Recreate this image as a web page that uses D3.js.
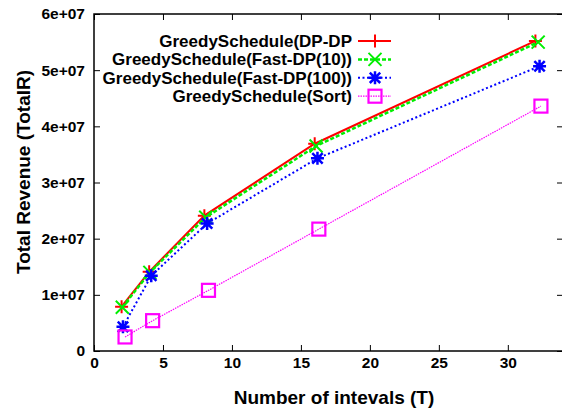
<!DOCTYPE html>
<html>
<head>
<meta charset="utf-8">
<script src="https://cdn.jsdelivr.net/npm/d3@7"></script>
<style>
  body { margin: 0; background: #fff; }
  text { font-family: "Liberation Sans", Arial, sans-serif; font-weight: bold; }
</style>
</head>
<body>
<div id="chart"></div>
<script>
const seriesNames = ['GreedySchedule(DP-DP', 'GreedySchedule(Fast-DP(10))', 'GreedySchedule(Fast-DP(100))', 'GreedySchedule(Sort)']
const xDpDp = [2, 4, 8, 16, 32]
const yDpDp = [7.9e6, 1.41e7, 2.41e7, 3.69e7, 5.52e7]
const xFast10 = [2.05, 4.05, 8.1, 16.1, 32.2]
const yFast10 = [7.8e6, 1.40e7, 2.38e7, 3.65e7, 5.50e7]
const xFast100 = [2.1, 4.15, 8.2, 16.2, 32.3]
const yFast100 = [4.3e6, 1.34e7, 2.27e7, 3.43e7, 5.07e7]
const xSort = [2.25, 4.25, 8.3, 16.3, 32.4]
const ySort = [2.5e6, 5.4e6, 1.08e7, 2.17e7, 4.36e7]
const xTicks = [0, 5, 10, 15, 20, 25, 30]
const yTicks = [0, 1e7, 2e7, 3e7, 4e7, 5e7, 6e7]
const yTickLabels = ['0', '1e+07', '2e+07', '3e+07', '4e+07', '5e+07', '6e+07']

const width = 562, height = 408
const margin = {top: 14, right: -1, bottom: 57, left: 94}
const w = width - margin.left - margin.right
const h = height - margin.top - margin.bottom

const series = [
  {name: seriesNames[0], xs: xDpDp, ys: yDpDp, color: '#ff0000', dash: null, lw: 2, marker: 'plus'},
  {name: seriesNames[1], xs: xFast10, ys: yFast10, color: '#00ee00', dash: '4,2', lw: 2.5, marker: 'cross'},
  {name: seriesNames[2], xs: xFast100, ys: yFast100, color: '#0000ff', dash: '2,2.5', lw: 2, marker: 'star'},
  {name: seriesNames[3], xs: xSort, ys: ySort, color: '#ff00ff', dash: '1.5,1', lw: 1.2, marker: 'square'}
]

const svg = d3.select('#chart').append('svg')
  .attr('width', width).attr('height', height)

const g = svg.append('g')
  .attr('transform', 'translate(' + margin.left + ',' + margin.top + ')')

const x = d3.scaleLinear().domain([0, 34]).range([0, w])
const y = d3.scaleLinear().domain([0, 6e7]).range([h, 0])

// frame
g.append('rect')
  .attr('width', w).attr('height', h)
  .attr('fill', 'none').attr('stroke', '#000').attr('stroke-width', 1.5)

// ticks (mirrored on all sides, pointing inward)
const tl = 6
g.append('g').attr('transform', 'translate(0,' + h + ')')
  .call(d3.axisBottom(x).tickValues(xTicks).tickSize(-tl).tickPadding(6).tickFormat(d3.format('d')))
g.append('g')
  .call(d3.axisTop(x).tickValues(xTicks).tickSize(-tl).tickFormat(''))
g.append('g')
  .call(d3.axisLeft(y).tickValues(yTicks).tickSize(-tl).tickPadding(9).tickFormat((d, i) => yTickLabels[i]))
g.append('g').attr('transform', 'translate(' + w + ',0)')
  .call(d3.axisRight(y).tickValues(yTicks).tickSize(-tl).tickFormat(''))

g.selectAll('.domain').remove()
g.selectAll('.tick line').attr('stroke', '#000').attr('stroke-width', 1)
g.selectAll('.tick text')
  .attr('fill', '#000')
  .style('font-size', '15.5px')
  .style('font-family', '"Liberation Sans", Arial, sans-serif')
  .style('font-weight', 'bold')

// markers
const drawMarker = (sel, type, color) => {
  const s = 6.5
  if (type === 'plus') {
    sel.append('path').attr('d', `M${-s},0H${s}M0,${-s}V${s}`)
      .attr('stroke', color).attr('stroke-width', 2).attr('fill', 'none')
  } else if (type === 'cross') {
    sel.append('path').attr('d', `M${-s},${-s}L${s},${s}M${-s},${s}L${s},${-s}`)
      .attr('stroke', color).attr('stroke-width', 2).attr('fill', 'none')
  } else if (type === 'star') {
    sel.append('path').attr('d', `M${-s},0H${s}M0,${-s}V${s}M${-s * 0.8},${-s * 0.8}L${s * 0.8},${s * 0.8}M${-s * 0.8},${s * 0.8}L${s * 0.8},${-s * 0.8}`)
      .attr('stroke', color).attr('stroke-width', 2.5).attr('fill', 'none')
  } else {
    sel.append('rect').attr('x', -s).attr('y', -s).attr('width', 2 * s).attr('height', 2 * s)
      .attr('stroke', color).attr('stroke-width', 2.2).attr('fill', 'none')
  }
}

const line = d3.line().x(d => x(d[0])).y(d => y(d[1]))

series.forEach((s) => {
  const pts = s.xs.map((v, i) => [v, s.ys[i]])
  g.append('path')
    .datum(pts)
    .attr('d', line)
    .attr('fill', 'none')
    .attr('stroke', s.color)
    .attr('stroke-width', s.lw)
    .attr('stroke-dasharray', s.dash)
  pts.forEach((p) => {
    const m = g.append('g').attr('transform', 'translate(' + x(p[0]) + ',' + y(p[1]) + ')')
    drawMarker(m, s.marker, s.color)
  })
})

// legend
const legend = svg.append('g')
const lx = 352, ly = 41, lh = 18.4
series.forEach((s, i) => {
  const row = legend.append('g').attr('transform', 'translate(0,' + (ly + i * lh) + ')')
  row.append('text')
    .attr('x', lx).attr('y', 0).attr('dy', '0.35em')
    .attr('text-anchor', 'end')
    .style('font-size', '17px')
    .text(s.name)
  row.append('line')
    .attr('x1', lx + 6).attr('x2', lx + 39).attr('y1', 0).attr('y2', 0)
    .attr('stroke', s.color).attr('stroke-width', s.lw)
    .attr('stroke-dasharray', s.dash)
  const m = row.append('g').attr('transform', 'translate(' + (lx + 23) + ',0)')
  drawMarker(m, s.marker, s.color)
})

// axis titles
svg.append('text')
  .attr('x', 334).attr('y', 404)
  .attr('text-anchor', 'middle')
  .style('font-size', '19px')
  .text('Number of intevals (T)')

svg.append('text')
  .attr('transform', 'translate(30,172) rotate(-90)')
  .attr('text-anchor', 'middle')
  .style('font-size', '19px')
  .text('Total Revenue (TotalR)')
</script>
</body>
</html>
